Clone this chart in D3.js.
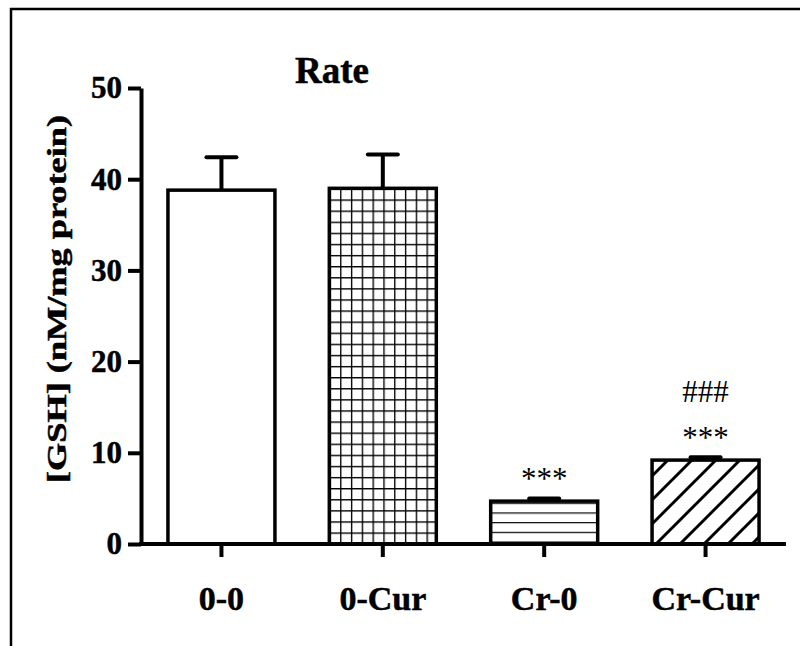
<!DOCTYPE html>
<html>
<head>
<meta charset="utf-8">
<script src="https://cdn.jsdelivr.net/npm/d3@7"></script>
<style>
  body { margin: 0; background: #fff; }
  svg { display: block; }
  text { font-family: "Liberation Serif", "Times New Roman", serif; }
</style>
</head>
<body>
<div id="chart"></div>
<script>
// Data
const groups = ["0-0", "0-Cur", "Cr-0", "Cr-Cur"];
const means = [38.8, 39.0, 4.7, 9.2];
const sems = [3.6, 3.7, 0.3, 0.3];
const stars = ["", "", "***", "***"];
const hashes = ["", "", "", "###"];
const yTicks = [0, 10, 20, 30, 40, 50];

const W = 800, H = 646;
const x0 = 141, x1 = 786, yTop = 88, yBottom = 544;

const svg = d3.select("#chart").append("svg")
  .attr("width", W).attr("height", H);

// frame lines (top and left only, the rest is cut off)
svg.append("line").attr("x1", 10).attr("x2", W).attr("y1", 9).attr("y2", 9)
  .attr("stroke", "#000").attr("stroke-width", 2.5);
svg.append("line").attr("x1", 11).attr("x2", 11).attr("y1", 8).attr("y2", H)
  .attr("stroke", "#000").attr("stroke-width", 2.5);

// scales
const x = d3.scaleBand().domain(groups).range([x0, x1])
  .paddingInner(0.337).paddingOuter(0.167);
const y = d3.scaleLinear().domain([0, 50]).range([yBottom, yTop]);

// fill patterns
const defs = svg.append("defs");

const grid = defs.append("pattern").attr("id", "grid")
  .attr("patternUnits", "userSpaceOnUse").attr("width", 10.8).attr("height", 11.1)
  .attr("x", x(groups[1])).attr("y", y(means[1]));
grid.append("rect").attr("width", 10.8).attr("height", 11.1).attr("fill", "#fff");
grid.append("path").attr("d", "M0,0H10.8M0,0V11.1")
  .attr("stroke", "#000").attr("stroke-width", 2.7);

const hlines = defs.append("pattern").attr("id", "hlines")
  .attr("patternUnits", "userSpaceOnUse").attr("width", 10).attr("height", 9.7)
  .attr("y", yBottom - 2.5);
hlines.append("rect").attr("width", 10).attr("height", 9.7).attr("fill", "#fff");
hlines.append("path").attr("d", "M0,0H10").attr("stroke", "#000").attr("stroke-width", 2.4);

const diag = defs.append("pattern").attr("id", "diag")
  .attr("patternUnits", "userSpaceOnUse").attr("width", 24).attr("height", 24);
diag.append("rect").attr("width", 24).attr("height", 24).attr("fill", "#fff");
diag.append("path").attr("d", "M-6,6L6,-6M0,24L24,0M18,30L30,18")
  .attr("stroke", "#000").attr("stroke-width", 3);

const fills = ["#fff", "url(#grid)", "url(#hlines)", "url(#diag)"];

// bars
svg.selectAll(".bar").data(groups).enter().append("rect")
  .attr("class", "bar")
  .attr("x", d => x(d))
  .attr("y", (d, i) => y(means[i]))
  .attr("width", x.bandwidth())
  .attr("height", (d, i) => y(0) - y(means[i]))
  .attr("fill", (d, i) => fills[i])
  .attr("stroke", "#000").attr("stroke-width", 3.5);

// upper error bars
const capW = 30;
groups.forEach((g, i) => {
  const cx = x(g) + x.bandwidth() / 2;
  svg.append("line")
    .attr("x1", cx).attr("x2", cx)
    .attr("y1", y(means[i])).attr("y2", y(means[i] + sems[i]))
    .attr("stroke", "#000").attr("stroke-width", 4);
  svg.append("line")
    .attr("x1", cx - capW / 2).attr("x2", cx + capW / 2)
    .attr("y1", y(means[i] + sems[i])).attr("y2", y(means[i] + sems[i]))
    .attr("stroke", "#000").attr("stroke-width", 4).attr("stroke-linecap", "round");
});

// significance marks
groups.forEach((g, i) => {
  const cx = x(g) + x.bandwidth() / 2;
  const base = y(means[i] + sems[i]) - 9;
  if (stars[i]) {
    svg.append("text").attr("x", cx).attr("y", base)
      .attr("text-anchor", "middle").attr("font-size", 31).text(stars[i]);
  }
  if (hashes[i]) {
    svg.append("text").attr("x", cx).attr("y", base - 46)
      .attr("text-anchor", "middle").attr("font-size", 31).text(hashes[i]);
  }
});

// axes
const yAxis = svg.append("g")
  .attr("transform", `translate(${x0},0)`)
  .call(d3.axisLeft(y).tickValues(yTicks).tickSize(13).tickSizeOuter(0).tickPadding(6));

const xAxis = svg.append("g")
  .attr("transform", `translate(0,${yBottom})`)
  .call(d3.axisBottom(x).tickSize(13).tickSizeOuter(0).tickPadding(29));

[yAxis, xAxis].forEach(a => {
  a.select(".domain").attr("stroke-width", 4);
  a.selectAll(".tick line").attr("stroke-width", 4);
  a.selectAll("text")
    .attr("font-weight", "bold").attr("fill", "#000")
    .attr("stroke", "#000").attr("stroke-width", 0.5);
});
yAxis.selectAll("text").attr("font-size", 31);
xAxis.selectAll("text").attr("font-size", 34);
xAxis.select(".domain").attr("d", `M${x0 - 2},0H${x1}`);

// title
svg.append("text").attr("x", 332).attr("y", 83)
  .attr("text-anchor", "middle").attr("font-weight", "bold").attr("font-size", 37)
  .attr("stroke", "#000").attr("stroke-width", 0.5)
  .text("Rate");

// y axis label
svg.append("text")
  .attr("transform", "translate(66,299) rotate(-90)")
  .attr("text-anchor", "middle").attr("font-weight", "bold").attr("font-size", 27)
  .attr("stroke", "#000").attr("stroke-width", 0.5)
  .attr("textLength", 368).attr("lengthAdjust", "spacingAndGlyphs")
  .text("[GSH] (nM/mg protein)");
</script>
</body>
</html>
